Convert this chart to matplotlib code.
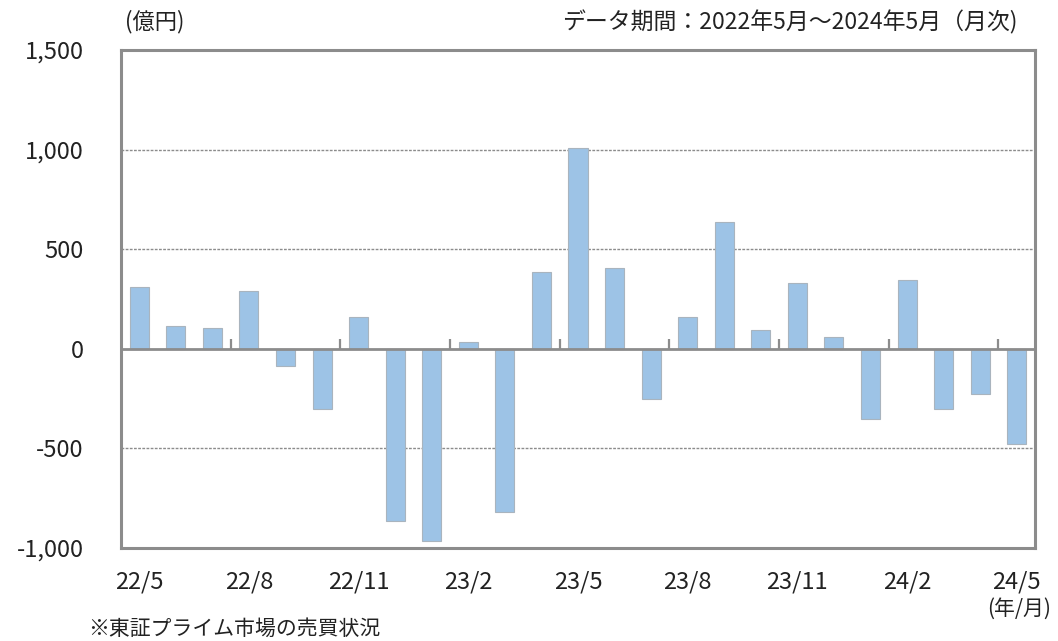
import matplotlib
matplotlib.use('Agg')
import matplotlib.pyplot as plt
import numpy as np

plt.rcParams['font.family'] = ['Noto Sans CJK JP', 'DejaVu Sans']

# 月次データ (億円)
months = ['22/5', '22/6', '22/7', '22/8', '22/9', '22/10', '22/11', '22/12',
          '23/1', '23/2', '23/3', '23/4', '23/5', '23/6', '23/7', '23/8',
          '23/9', '23/10', '23/11', '23/12', '24/1', '24/2', '24/3', '24/4', '24/5']
values = [308, 114, 103, 290, -85, -300, 160, -865, -965, 32, -820, 385,
          1007, 405, -253, 159, 635, 93, 328, 58, -354, 344, -304, -228, -477]
yticks = [-1000, -500, 0, 500, 1000, 1500]
ytick_labels = ['-1,000', '-500', '0', '500', '1,000', '1,500']

W, H = 1058, 641
fig = plt.figure(figsize=(W / 100, H / 100), dpi=100)
ax = fig.add_axes([121 / W, (H - 548) / H, (1035 - 121) / W, (548 - 50) / H])

x = np.arange(len(months))
ax.bar(x, values, width=0.52, color='#9DC3E6', edgecolor='#A9B4BE', linewidth=0.8, zorder=3)

ax.set_xlim(-0.5, len(months) - 0.5)
ax.set_ylim(-1000, 1500)

# グリッド線
for v in [-500, 500, 1000]:
    ax.axhline(v, color='#8C8C8C', linestyle=(0, (2, 1)), linewidth=1.0, zorder=1)
ax.axhline(0, color='#8C8C8C', linewidth=2, zorder=4)

# ゼロ線上の目盛り (3か月ごと)
bounds = np.arange(2.5, len(months) - 1, 3)
ax.vlines(bounds, 0, 50, color='#8C8C8C', linewidth=1.6, zorder=4)

for s in ax.spines.values():
    s.set_color('#8C8C8C')
    s.set_linewidth(2.2)

ax.set_yticks(yticks)
ax.set_yticklabels(ytick_labels)
ax.set_xticks(x[::3])
ax.set_xticklabels(months[::3])
ax.tick_params(axis='y', length=0, pad=27, labelsize=17, labelcolor='#222222')
ax.tick_params(axis='x', length=0, pad=16, labelsize=17, labelcolor='#222222')

fig.text(125 / W, 1 - 22 / H, '(億円)', fontsize=16, ha='left', va='center', color='#222222')
fig.text(1018 / W, 1 - 22 / H, 'データ期間：2022年5月～2024年5月（月次)', fontsize=16.5,
         ha='right', va='center', color='#222222')
fig.text(1051 / W, 1 - 609 / H, '(年/月)', fontsize=15, ha='right', va='center', color='#222222')
fig.text(88 / W, 1 - 629 / H, '※東証プライム市場の売買状況', fontsize=15, ha='left', va='center',
         color='#222222')

fig.savefig('out.png', dpi=100)
